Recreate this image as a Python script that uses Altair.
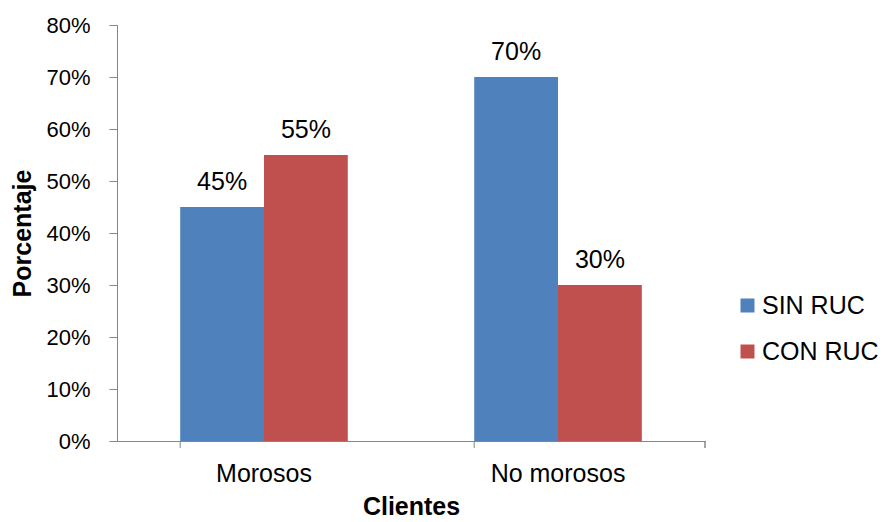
import altair as alt
import pandas as pd

categories = ["Morosos", "Morosos", "No morosos", "No morosos"]
series = ["SIN RUC", "CON RUC", "SIN RUC", "CON RUC"]
values = [0.45, 0.55, 0.70, 0.30]
labels = ["45%", "55%", "70%", "30%"]
cat_order = ["Morosos", "No morosos"]
series_order = ["SIN RUC", "CON RUC"]
colors = ["#4F81BD", "#C0504D"]

df = pd.DataFrame({"cat": categories, "serie": series, "val": values, "lab": labels})
ticks_df = pd.DataFrame({"cat": cat_order})

W, H = 588, 416
FONT = "Liberation Sans"

xscale = alt.Scale(domain=cat_order, paddingInner=0.43, paddingOuter=0.215)

bars = alt.Chart(df).mark_bar().encode(
    x=alt.X("cat:N", scale=xscale, sort=cat_order,
            axis=alt.Axis(title="Clientes", labelAngle=0, ticks=False,
                          labelFontSize=25, titleFontSize=25, titleFontWeight="bold",
                          labelPadding=20, titlePadding=8, domainColor="#868686",
                          labelColor="#000000", titleColor="#000000")),
    xOffset=alt.XOffset("serie:N", sort=series_order, scale=alt.Scale(paddingInner=0, paddingOuter=0)),
    y=alt.Y("val:Q", scale=alt.Scale(domain=[0, 0.8]),
            axis=alt.Axis(title="Porcentaje", format=".0%", values=[0, 0.1, 0.2, 0.3, 0.4, 0.5, 0.6, 0.7, 0.8],
                          grid=False, labelFontSize=22, titleFontSize=25, titleFontWeight="bold",
                          tickSize=8, tickColor="#868686", domainColor="#868686",
                          labelPadding=19, titlePadding=10,
                          labelColor="#000000", titleColor="#000000")),
    color=alt.Color("serie:N", sort=series_order, scale=alt.Scale(domain=series_order, range=colors),
                    legend=alt.Legend(title=None, orient="none", legendX=618, legendY=268,
                                      symbolType="square", symbolSize=196, symbolStrokeWidth=0,
                                      labelFontSize=25, labelFont=FONT, rowPadding=20, labelOffset=2,
                                      labelColor="#000000")),
)

text = alt.Chart(df).mark_text(dy=-17, fontSize=25, font=FONT, color="#000000", baseline="alphabetic").encode(
    x=alt.X("cat:N", scale=xscale, sort=cat_order),
    xOffset=alt.XOffset("serie:N", sort=series_order, scale=alt.Scale(paddingInner=0, paddingOuter=0)),
    y=alt.Y("val:Q"),
    text="lab:N",
)

tick_marks = alt.Chart(ticks_df).mark_rule(color="#868686", strokeWidth=1).encode(
    x=alt.X("cat:N", scale=xscale, sort=cat_order, bandPosition=0),
    y=alt.value(H),
    y2=alt.value(H + 7),
)
end_tick = alt.Chart(ticks_df).mark_rule(color="#868686", strokeWidth=1).encode(
    x=alt.value(W), y=alt.value(H), y2=alt.value(H + 7)
)

chart = alt.layer(bars, text, tick_marks, end_tick).properties(
    width=W, height=H,
    background="white",
    autosize=alt.AutoSizeParams(type="none"),
    padding={"left": 117, "top": 25, "right": 183, "bottom": 81},
).configure_view(stroke=None).configure_axis(
    labelFont=FONT, titleFont=FONT
)

chart.save("out.html", embed_options={"renderer": "svg", "actions": False})
